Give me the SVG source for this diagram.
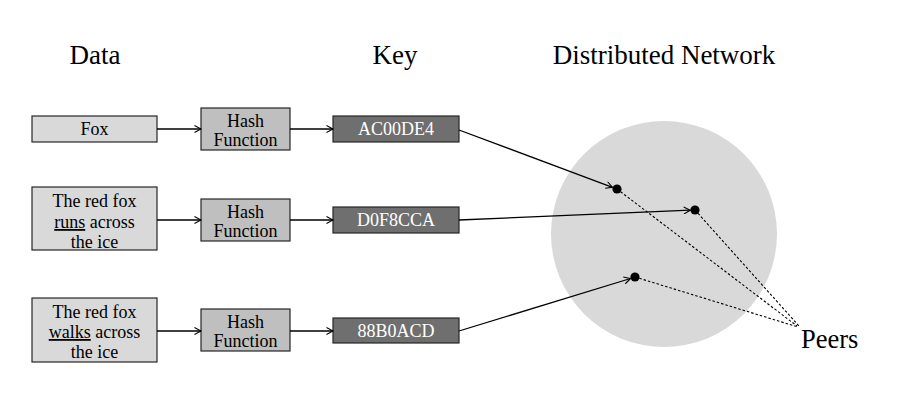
<svg xmlns="http://www.w3.org/2000/svg" width="904" height="418" viewBox="0 0 904 418">
<defs>
<style>
text{font-family:"Liberation Serif","Times New Roman",serif;}
.hdr{font-size:27px;fill:#000;text-anchor:middle;}
.lbl{font-size:18px;fill:#000;text-anchor:middle;}
.klbl{font-size:18px;fill:#fff;text-anchor:middle;}
.data{fill:#d9d9d9;stroke:#262626;stroke-width:1.2;}
.hash{fill:#bfbfbf;stroke:#262626;stroke-width:1.2;}
.key{fill:#6f6f6f;stroke:#262626;stroke-width:1.2;}
.conn{stroke:#000;stroke-width:1.3;fill:none;marker-end:url(#arr);}
.dash{stroke:#000;stroke-width:1.1;fill:none;stroke-dasharray:2.5,2;}
.dot{fill:#000;}
</style>
<marker id="arr" viewBox="0 0 8 8" refX="7.5" refY="4" markerWidth="8" markerHeight="8" markerUnits="userSpaceOnUse" orient="auto">
<path d="M1,0.5 L7.5,4 L1,7.5" fill="none" stroke="#000" stroke-width="1.1"/>
</marker>
</defs>
<rect width="904" height="418" fill="#fff"/>
<g id="headers">
<text class="hdr" x="95" y="64">Data</text>
<text class="hdr" x="395" y="64">Key</text>
<text class="hdr" x="664" y="64">Distributed Network</text>
</g>
<g id="network">
<circle cx="664" cy="234" r="113" fill="#d9d9d9"/>
</g>
<g id="data1"><rect class="data" x="32" y="116" width="125" height="26"/><text class="lbl" x="94.5" y="135">Fox</text></g>
<g id="data2"><rect class="data" x="32" y="187" width="125" height="63"/>
<text class="lbl" x="94.5" y="207">The red fox</text>
<text class="lbl" x="94.5" y="228"><tspan text-decoration="underline">runs</tspan> across</text>
<text class="lbl" x="94.5" y="248">the ice</text></g>
<g id="data3"><rect class="data" x="32" y="298" width="125" height="64"/>
<text class="lbl" x="94.5" y="318">The red fox</text>
<text class="lbl" x="94.5" y="338"><tspan text-decoration="underline">walks</tspan> across</text>
<text class="lbl" x="94.5" y="358">the ice</text></g>
<g id="hash1"><rect class="hash" x="201" y="108" width="89" height="42"/><text class="lbl" x="245.5" y="127">Hash</text><text class="lbl" x="245.5" y="146">Function</text></g>
<g id="hash2"><rect class="hash" x="201" y="199" width="89" height="42"/><text class="lbl" x="245.5" y="218">Hash</text><text class="lbl" x="245.5" y="237">Function</text></g>
<g id="hash3"><rect class="hash" x="201" y="309" width="89" height="42"/><text class="lbl" x="245.5" y="328">Hash</text><text class="lbl" x="245.5" y="347">Function</text></g>
<g id="key1"><rect class="key" x="333" y="116" width="126" height="26"/><text class="klbl" x="396" y="135">AC00DE4</text></g>
<g id="key2"><rect class="key" x="333" y="207" width="126" height="26"/><text class="klbl" x="396" y="226">D0F8CCA</text></g>
<g id="key3"><rect class="key" x="333" y="318" width="126" height="25"/><text class="klbl" x="396" y="337">88B0ACD</text></g>
<g id="peers">
<circle class="dot" cx="617" cy="189" r="4.6"/>
<circle class="dot" cx="695" cy="210" r="4.6"/>
<circle class="dot" cx="635" cy="277" r="4.6"/>
<text x="801" y="348" font-size="26.5" fill="#000">Peers</text>
</g>
<g id="connectors">
<line class="conn" x1="157" y1="129" x2="201" y2="129"/>
<line class="conn" x1="290" y1="129" x2="333" y2="129"/>
<line class="conn" x1="157" y1="220" x2="201" y2="220"/>
<line class="conn" x1="290" y1="220" x2="333" y2="220"/>
<line class="conn" x1="157" y1="331" x2="201" y2="331"/>
<line class="conn" x1="290" y1="331" x2="333" y2="331"/>
<line class="conn" x1="459" y1="130" x2="612.5" y2="187.3"/>
<line class="conn" x1="459" y1="220" x2="690.3" y2="210.2"/>
<line class="conn" x1="459" y1="331" x2="630.5" y2="278.5"/>
<line class="dash" x1="617" y1="189" x2="797" y2="326"/>
<line class="dash" x1="695" y1="210" x2="799" y2="326"/>
<line class="dash" x1="635" y1="277" x2="798" y2="327"/>
</g>
</svg>
